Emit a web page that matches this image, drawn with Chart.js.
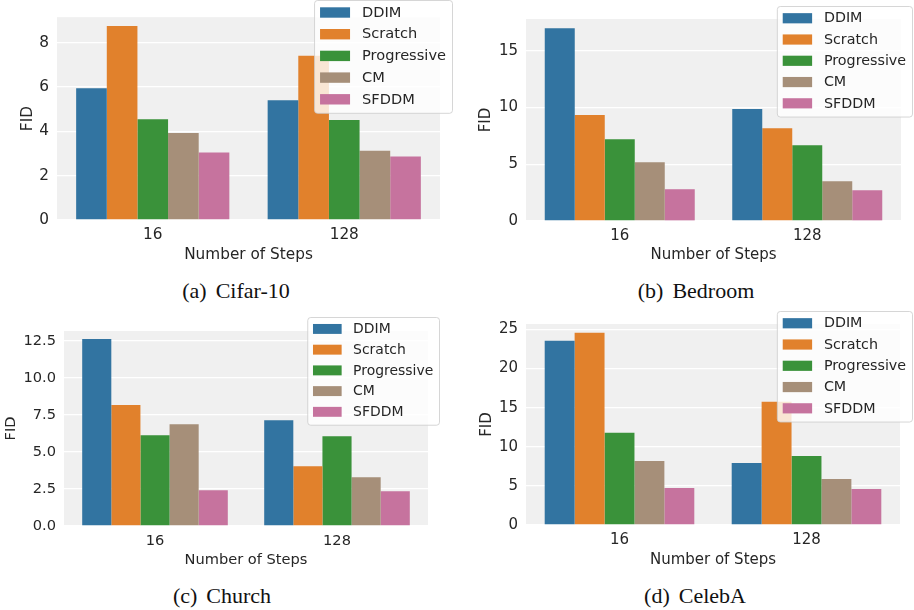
<!DOCTYPE html>
<html>
<head>
<title>FID vs Number of Steps</title>
<script src="https://cdn.jsdelivr.net/npm/chart.js"></script>
<style>
  body { margin: 0; width: 914px; height: 610px; position: relative; background: #fff; overflow: hidden; }
  canvas { position: absolute; }
  .cap { position: absolute; font-family: "Liberation Serif", serif; font-size: 22px; line-height: 26px;
         color: #111; transform: translateX(-50%); white-space: nowrap; }
  .cap span { margin-right: 9px; }
</style>
</head>
<body>
<canvas id="c0" width="457" height="264" style="left:0;top:0"></canvas>
<canvas id="c1" width="457" height="264" style="left:457px;top:0"></canvas>
<canvas id="c2" width="457" height="264" style="left:0;top:305px"></canvas>
<canvas id="c3" width="457" height="264" style="left:457px;top:305px"></canvas>
<div class="cap" style="left:236px;top:278px"><span>(a)</span>Cifar-10</div>
<div class="cap" style="left:696px;top:278px"><span>(b)</span>Bedroom</div>
<div class="cap" style="left:222px;top:583px"><span>(c)</span>Church</div>
<div class="cap" style="left:695px;top:583px"><span>(d)</span>CelebA</div>
<script>
  // data (rows = method, cols = steps)
  const steps = ['16', '128'];
  const methods = ['DDIM', 'Scratch', 'Progressive', 'CM', 'SFDDM'];
  const colors = ['#3274a1', '#e1812c', '#3a923a', '#a68f79', '#c6739e'];

  const cifarFid = [[5.94, 5.40], [8.75, 7.41], [4.55, 4.51], [3.93, 3.12], [3.04, 2.86]];
  const bedroomFid = [[16.98, 9.86], [9.33, 8.18], [7.21, 6.68], [5.18, 3.50], [2.80, 2.71]];
  const churchFid = [[12.64, 7.15], [8.17, 4.04], [6.14, 6.07], [6.88, 3.30], [2.42, 2.35]];
  const celebaFid = [[23.56, 7.94], [24.58, 15.75], [11.78, 8.83], [8.19, 5.89], [4.74, 4.61]];

  const yMaxes = [9.15, 17.8, 13.18, 25.7];
  const yStepSizes = [2, 5, 2.5, 5];
  const yDecimals = [0, 0, 1, 0];

  const textColor = '#262626';

  const plotBg = {
    id: 'plotBg',
    beforeDraw(chart) {
      const a = chart.chartArea, ctx = chart.ctx;
      ctx.save();
      ctx.fillStyle = '#f0f0f0';
      ctx.fillRect(a.left, a.top, a.right - a.left, a.bottom - a.top);
      ctx.restore();
    }
  };

  // matplotlib-like legend box, allowed to stick out of the plot area
  const boxLegend = {
    id: 'boxLegend',
    afterDraw(chart, args, opts) {
      const ctx = chart.ctx, s = opts.scale;
      ctx.save();
      ctx.font = (14.6 * s) + 'px "DejaVu Sans"';
      const sets = chart.data.datasets;
      const tw = Math.max(...sets.map(d => ctx.measureText(d.label).width));
      const w = 48 * s + tw + 6 * s;
      const row = 21.7 * s;
      const h = 12.5 * s + row * (sets.length - 1) + 13.5 * s;
      const x = opts.right - w, y = opts.top;
      ctx.beginPath();
      ctx.roundRect(x + 0.5, y + 0.5, w, h, 3);
      ctx.fillStyle = 'rgba(255,255,255,0.8)';
      ctx.fill();
      ctx.strokeStyle = 'rgba(204,204,204,0.8)';
      ctx.lineWidth = 1;
      ctx.stroke();
      ctx.textBaseline = 'middle';
      sets.forEach((d, i) => {
        const cy = y + 12.5 * s + i * row;
        ctx.fillStyle = d.backgroundColor;
        ctx.fillRect(x + 6 * s, cy - 5.2 * s, 30 * s, 10.4 * s);
        ctx.fillStyle = textColor;
        ctx.fillText(d.label, x + 48 * s, cy + 0.5);
      });
      ctx.restore();
    }
  };

  const layouts = [
    { yw: 57, right: 17, top: 15, xh: 44, fidPad: 18.8, lr: 452, lt: 0, s: 1 },
    { yw: 69, right: 13, top: 19, xh: 43, fidPad: 20.5, lr: 455, lt: 6, s: 0.98 },
    { yw: 64, right: 29, top: 26, xh: 43, fidPad: 2.8, lr: 439, lt: 12, s: 0.955 },
    { yw: 69, right: 14, top: 19, xh: 44, fidPad: 20.8, lr: 455, lt: 6, s: 0.98 }
  ];

  function makeChart(i, values) {
    const L = layouts[i];
    const font = { family: '"DejaVu Sans"', size: 15.3 * L.s };
    new Chart(document.getElementById('c' + i), {
      type: 'bar',
      data: {
        labels: steps,
        datasets: methods.map((m, k) => ({
          label: m,
          data: values[k],
          backgroundColor: colors[k],
          categoryPercentage: 0.8,
          barPercentage: 1.0,
          borderWidth: 0
        }))
      },
      options: {
        responsive: false,
        animation: false,
        layout: { padding: { top: L.top, right: L.right, left: 0, bottom: 0 } },
        plugins: {
          legend: { display: false },
          tooltip: { enabled: false },
          boxLegend: { right: L.lr, top: L.lt, scale: L.s }
        },
        scales: {
          x: {
            grid: { display: false, drawTicks: false },
            border: { display: false },
            ticks: { font: font, color: textColor, padding: 6 },
            title: { display: true, text: 'Number of Steps', font: font, color: textColor, padding: { top: 0, bottom: 0 } },
            afterFit: sc => { sc.height = L.xh; }
          },
          y: {
            min: 0,
            max: yMaxes[i],
            grid: { color: '#ffffff', lineWidth: 1.3, drawTicks: false },
            border: { display: false },
            ticks: {
              stepSize: yStepSizes[i],
              includeBounds: false,
              padding: 8,
              font: font,
              color: textColor,
              callback: v => v.toFixed(yDecimals[i])
            },
            title: { display: true, text: 'FID', font: font, color: textColor, padding: { top: L.fidPad, bottom: 0 } },
            afterFit: sc => { sc.width = L.yw; }
          }
        }
      },
      plugins: [plotBg, boxLegend]
    });
  }

  makeChart(0, cifarFid);
  makeChart(1, bedroomFid);
  makeChart(2, churchFid);
  makeChart(3, celebaFid);
</script>
</body>
</html>
